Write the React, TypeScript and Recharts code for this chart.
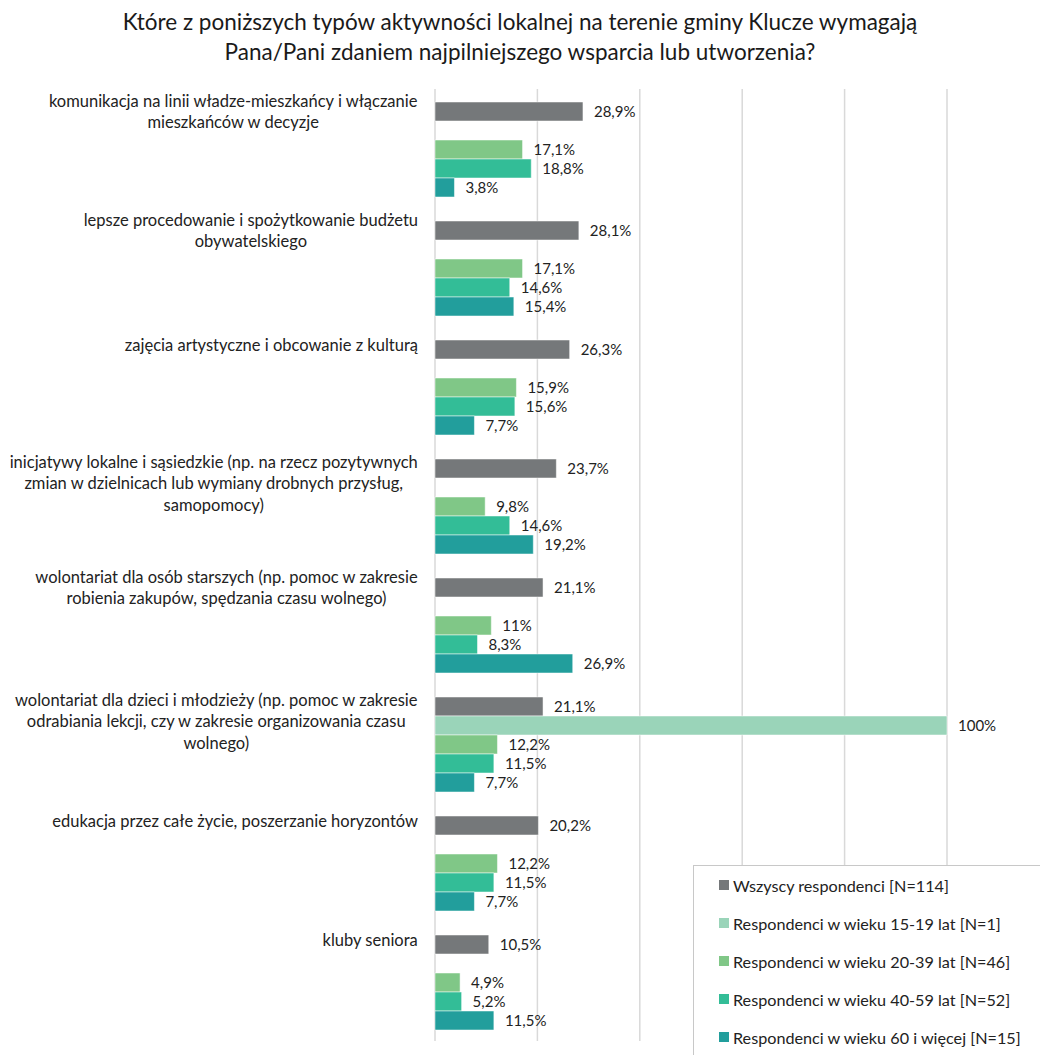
import React from 'react';
import {
  Bar,
  BarChart,
  CartesianGrid,
  LabelList,
  Legend,
  XAxis,
  YAxis,
} from 'recharts';

const categories = [
  'komunikacja na linii władze-mieszkańcy i włączanie\nmieszkańców w decyzje',
  'lepsze procedowanie i spożytkowanie budżetu\nobywatelskiego',
  'zajęcia artystyczne i obcowanie z kulturą',
  'inicjatywy lokalne i sąsiedzkie (np. na rzecz pozytywnych\nzmian w dzielnicach lub wymiany drobnych przysług,\nsamopomocy)',
  'wolontariat dla osób starszych (np. pomoc w zakresie\nrobienia zakupów, spędzania czasu wolnego)',
  'wolontariat dla dzieci i młodzieży (np. pomoc w zakresie\nodrabiania lekcji, czy w zakresie organizowania czasu\nwolnego)',
  'edukacja przez całe życie, poszerzanie horyzontów',
  'kluby seniora',
];

const allRespondents = [28.9, 28.1, 26.3, 23.7, 21.1, 21.1, 20.2, 10.5];
const age15to19 = [null, null, null, null, null, 100, null, null];
const age20to39 = [17.1, 17.1, 15.9, 9.8, 11, 12.2, 12.2, 4.9];
const age40to59 = [18.8, 14.6, 15.6, 14.6, 8.3, 11.5, 11.5, 5.2];
const age60plus = [3.8, 15.4, 7.7, 19.2, 26.9, 7.7, 7.7, 11.5];

const xTicks = [0, 20, 40, 60, 80, 100];

const seriesKeys = ['all', 'a1519', 'a2039', 'a4059', 'a60'];
const seriesNames: Record<string, string> = {
  all: 'Wszyscy respondenci [N=114]',
  a1519: 'Respondenci w wieku 15-19 lat [N=1]',
  a2039: 'Respondenci w wieku 20-39 lat [N=46]',
  a4059: 'Respondenci w wieku 40-59 lat [N=52]',
  a60: 'Respondenci w wieku 60 i więcej [N=15]',
};
const seriesColors: Record<string, string> = {
  all: '#75787a',
  a1519: '#9ad4b9',
  a2039: '#80c787',
  a4059: '#33bd97',
  a60: '#229e9c',
};

const chartData = categories.map((name, i) => ({
  name,
  all: allRespondents[i],
  a1519: age15to19[i],
  a2039: age20to39[i],
  a4059: age40to59[i],
  a60: age60plus[i],
}));

const FONT = 'Lato, "Noto Sans", sans-serif';
const TEXT = '#222';
const LABEL_SIZE = 16.5;

let canvasCtx: CanvasRenderingContext2D | null = null;
function measure(text: string, font: string) {
  if (!canvasCtx) canvasCtx = document.createElement('canvas').getContext('2d');
  if (!canvasCtx) return text.length * 7.5;
  canvasCtx.font = font;
  return canvasCtx.measureText(text).width;
}

const fmt = (v: any) =>
  v === null || v === undefined ? '' : `${String(v).replace('.', ',')}%`;

const CategoryTick = (props: any) => {
  const { y, payload } = props;
  const lines: string[] = String(payload.value).split('\n');
  const n = lines.length;
  const right = 418;
  const width = Math.max(
    ...lines.map((l) => measure(l, `${LABEL_SIZE}px Lato`)),
  );
  const cx = right - width / 2;
  const greyCenter = y - 37;
  const first = greyCenter + (n === 1 ? -5 : n === 2 ? -11 : -7);
  return (
    <text
      textAnchor='middle'
      fontSize={LABEL_SIZE}
      fontFamily={FONT}
      fill={TEXT}
    >
      {lines.map((l, i) => (
        <tspan key={i} x={cx} y={first + i * 21.5} dominantBaseline='central'>
          {l}
        </tspan>
      ))}
    </text>
  );
};

const LegendBox = (props: any) => {
  const payload = [...(props.payload || [])].sort(
    (a: any, b: any) =>
      seriesKeys.indexOf(a.dataKey) - seriesKeys.indexOf(b.dataKey),
  );
  return (
    <div>
      {payload.map((entry: any, i: number) => (
        <div
          key={i}
          style={{
            display: 'flex',
            alignItems: 'center',
            height: 38,
            marginLeft: 25,
            fontFamily: FONT,
            fontSize: 16.2,
            color: TEXT,
            whiteSpace: 'nowrap',
          }}
        >
          <span
            style={{
              display: 'inline-block',
              width: 10,
              height: 10,
              background: entry.color,
              marginRight: 4,
            }}
          />
          {entry.value}
        </div>
      ))}
    </div>
  );
};

export default function App() {
  return (
    <div
      style={{
        position: 'absolute',
        left: 0,
        top: 0,
        width: 1040,
        height: 1055,
        background: '#fff',
        overflow: 'hidden',
      }}
    >
      <div
        style={{
          position: 'absolute',
          top: 7,
          left: 0,
          width: 1040,
          textAlign: 'center',
          fontFamily: FONT,
          fontSize: 22.5,
          lineHeight: '30px',
          color: '#1a1a1a',
        }}
      >
        Które z poniższych typów aktywności lokalnej na terenie gminy Klucze wymagają
        <br />
        Pana/Pani zdaniem najpilniejszego wsparcia lub utworzenia?
      </div>
      <BarChart
        width={1040}
        height={1055}
        data={chartData}
        layout='vertical'
        margin={{ top: 89, right: 93, bottom: 14, left: 0 }}
        barCategoryGap={13}
        barGap={0}
      >
        <CartesianGrid
          horizontal={false}
          stroke='#d9d9d9'
          strokeWidth={1.5}
        />
        <XAxis
          type='number'
          domain={[0, 100]}
          ticks={xTicks}
          interval={0}
          tick={{ fill: 'transparent', fontSize: 1 }}
          axisLine={false}
          tickLine={false}
          height={0}
        />
        <YAxis
          type='category'
          dataKey='name'
          width={435}
          axisLine={false}
          tickLine={false}
          tick={<CategoryTick />}
          interval={0}
        />
        <Legend
          layout='horizontal'
          verticalAlign='middle'
          align='center'
          content={<LegendBox />}
          wrapperStyle={{
            position: 'absolute',
            left: 693,
            top: 865,
            width: 360,
            height: 200,
            border: '1px solid #c8c8c8',
            background: '#fff',
            boxSizing: 'border-box',
          }}
        />
        {seriesKeys.map((key) => (
          <Bar
            key={key}
            dataKey={key}
            name={seriesNames[key]}
            fill={seriesColors[key]}
            stroke='#fff'
            strokeWidth={0.5}
            isAnimationActive={false}
          >
            <LabelList
              dataKey={key}
              position='right'
              offset={11}
              formatter={fmt}
              fill={TEXT}
              fontSize={15}
              fontFamily={FONT}
            />
          </Bar>
        ))}
      </BarChart>
    </div>
  );
}
